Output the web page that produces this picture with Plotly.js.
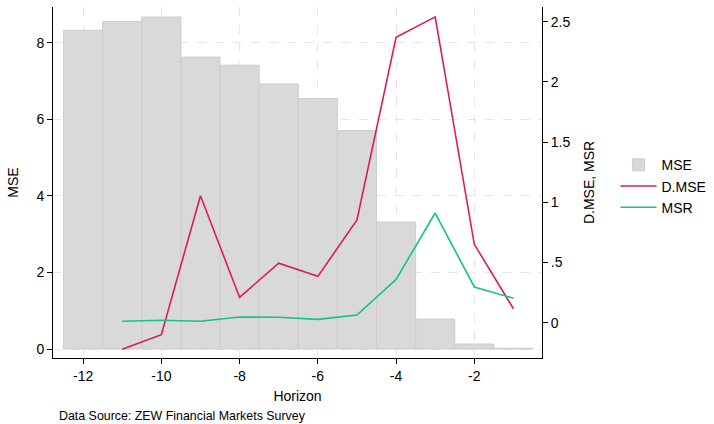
<!DOCTYPE html>
<html>
<head>
<meta charset="utf-8">
<script src="https://cdn.plot.ly/plotly-3.0.1.min.js"></script>
<style>html,body{margin:0;padding:0;background:#fff;}#chart{width:714px;height:424px;}</style>
</head>
<body>
<div id="chart"></div>
<script>
// Data
const horizon = [-12, -11, -10, -9, -8, -7, -6, -5, -4, -3, -2, -1];
const mse = [8.33, 8.56, 8.68, 7.63, 7.42, 6.93, 6.55, 5.71, 3.32, 0.78, 0.13, 0.02];
const lineHorizon = [-11, -10, -9, -8, -7, -6, -5, -4, -3, -2, -1];
const dmse = [-0.22, -0.10, 1.055, 0.21, 0.495, 0.385, 0.853, 2.37, 2.54, 0.651, 0.116];
const msr = [0.012, 0.02, 0.012, 0.047, 0.045, 0.028, 0.064, 0.36, 0.911, 0.297, 0.203];
const xTicks = [-12, -10, -8, -6, -4, -2];
const yTicks = [0, 2, 4, 6, 8];
const y2Ticks = [0, 0.5, 1, 1.5, 2, 2.5];
const y2TickText = ['0', '.5', '1', '1.5', '2', '2.5'];

const FONT = 'Liberation Sans, Arial, Helvetica, sans-serif';

const traces = [
  {
    type: 'bar', name: 'MSE', x: horizon, y: mse, width: 1,
    marker: {color: '#d9d9d9', line: {color: '#cdcdcd', width: 1}},
    yaxis: 'y'
  },
  {
    type: 'scatter', mode: 'lines', name: 'D.MSE', x: lineHorizon, y: dmse,
    line: {color: '#e0195e', width: 1.6}, yaxis: 'y2'
  },
  {
    type: 'scatter', mode: 'lines', name: 'MSR', x: lineHorizon, y: msr,
    line: {color: '#13c389', width: 1.6}, yaxis: 'y2'
  }
];

const layout = {
  width: 714, height: 424,
  margin: {l: 53, r: 172, t: 7, b: 66, autoexpand: false},
  paper_bgcolor: '#fff', plot_bgcolor: '#fff',
  font: {family: FONT, size: 14, color: '#000'},
  bargap: 0,
  showlegend: true,
  legend: {
    xref: 'container', yref: 'container',
    x: 0.862, y: 0.648, xanchor: 'left', yanchor: 'top',
    font: {family: FONT, size: 14, color: '#000'},
    bgcolor: 'rgba(0,0,0,0)', itemwidth: 36, tracegroupgap: 0
  },
  xaxis: {
    range: [-12.77, -0.27], tickvals: xTicks, ticktext: xTicks.map(String),
    showline: true, linecolor: '#000', linewidth: 1, mirror: false,
    ticks: 'outside', ticklen: 5, tickcolor: '#000',
    showgrid: true, gridcolor: '#e6e6e6', griddash: 'dash', gridwidth: 1,
    zeroline: false,
    title: {text: 'Horizon', font: {family: FONT, size: 14}, standoff: 8}
  },
  yaxis: {
    range: [-0.235, 8.94], tickvals: yTicks, ticktext: yTicks.map(String),
    showline: true, linecolor: '#000', linewidth: 1,
    ticks: 'outside', ticklen: 5, tickcolor: '#000',
    showgrid: true, gridcolor: '#e6e6e6', griddash: 'dash', gridwidth: 1,
    zeroline: false,
    title: {text: 'MSE', font: {family: FONT, size: 14}, standoff: 14}
  },
  yaxis2: {
    overlaying: 'y', side: 'right',
    range: [-0.293, 2.622], tickvals: y2Ticks, ticktext: y2TickText,
    showline: true, linecolor: '#000', linewidth: 1,
    ticks: 'outside', ticklen: 5, tickcolor: '#000',
    showgrid: false, zeroline: false,
    title: {text: 'D.MSE, MSR', font: {family: FONT, size: 14}, standoff: 14}
  },
  annotations: [
    {
      text: 'Data Source: ZEW Financial Markets Survey',
      xref: 'paper', yref: 'paper', x: 0.008, y: -0.165,
      xanchor: 'left', yanchor: 'middle', showarrow: false,
      font: {family: FONT, size: 12.4, color: '#000'}
    }
  ]
};

Plotly.newPlot('chart', traces, layout, {displayModeBar: false, staticPlot: true});
</script>
</body>
</html>
